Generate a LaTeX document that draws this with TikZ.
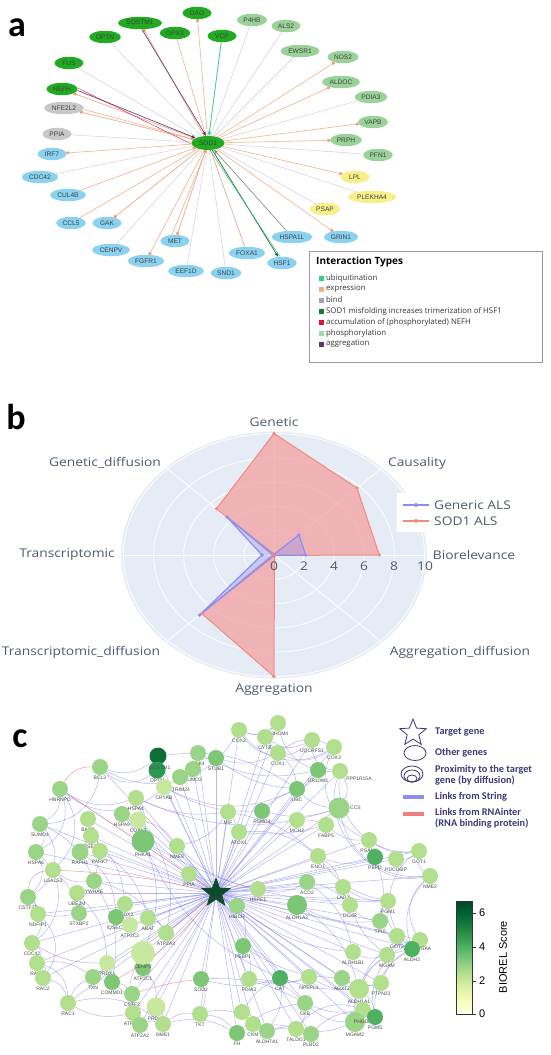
\documentclass[tikz,border=0pt]{standalone}
\usepackage{fontspec}
\usepackage{graphicx}
\setmainfont{Liberation Sans}
\newfontfamily\osans{Open Sans}
\newfontfamily\carl{Carlito}
\usetikzlibrary{shapes.geometric,arrows.meta}
\pgfdeclarelayer{back}
\pgfdeclarelayer{bg}
\pgfsetlayers{back,bg,main}
% panel a
\definecolor{ndg}{HTML}{22AA22}
\definecolor{nlg}{HTML}{9AD29A}
\definecolor{nbl}{HTML}{8AD2F0}
\definecolor{nye}{HTML}{F7F08A}
\definecolor{ngr}{HTML}{C8C8C8}
\definecolor{egr}{HTML}{D0CADE}
\definecolor{eor}{HTML}{F5AC82}
\definecolor{epu}{HTML}{5E3370}
\definecolor{eub}{HTML}{2BD47F}
\definecolor{edg}{HTML}{177A2E}
\definecolor{ecr}{HTML}{DC143C}
\definecolor{eph}{HTML}{A3D9A8}
\definecolor{ebd}{HTML}{A8A0B8}
% panel b
\definecolor{pbg}{HTML}{E5ECF6}
\definecolor{ptx}{HTML}{4C5B6E}
\definecolor{genl}{HTML}{8C8CF5}
\definecolor{sodl}{HTML}{F28A80}
\definecolor{sodf}{HTML}{F4A0A0}
% panel c
\definecolor{c1}{HTML}{C9E89F}
\definecolor{c2}{HTML}{B2DF8E}
\definecolor{c3}{HTML}{9AD486}
\definecolor{c4}{HTML}{7CC675}
\definecolor{c5}{HTML}{4FB062}
\definecolor{c6}{HTML}{2A9A52}
\definecolor{c7}{HTML}{0D6E36}
\definecolor{stg}{HTML}{0B4A2A}
\definecolor{sblue}{HTML}{7B7BF0}
\definecolor{rnared}{HTML}{F08080}
\definecolor{ctx}{HTML}{3B3B78}
\definecolor{yl0}{HTML}{FFFFE5}
\definecolor{yl1}{HTML}{F7FCB9}
\definecolor{yl2}{HTML}{D9F0A3}
\definecolor{yl3}{HTML}{ADDD8E}
\definecolor{yl4}{HTML}{78C679}
\definecolor{yl5}{HTML}{41AB5D}
\definecolor{yl6}{HTML}{238443}
\definecolor{yl7}{HTML}{006837}
\definecolor{yl8}{HTML}{004529}
\newcommand{\wx}[1]{\scalebox{1.15}[1]{#1}}
\begin{document}
\begin{tikzpicture}[x=1pt,y=-1pt,
 an/.style={ellipse, inner xsep=2pt, inner ysep=0.5pt, minimum height=12.5pt, minimum width=29pt, font=\fontsize{6.6}{7}\selectfont, text=black!75, fill=#1},
 eg/.style={draw=egr, line width=0.45pt},
 eo/.style={draw=eor, line width=0.55pt},
 eoa/.style={draw=eor, line width=0.55pt, -{Square[length=2.6pt,width=2.6pt,color=eor!90!red]}},
 epa/.style={draw=epu, line width=0.6pt, -{Triangle[length=4pt,width=3pt]}},
 lgt/.style={anchor=west, inner sep=0pt, font=\osans\fontsize{7.8}{9}\selectfont, text=black!80},
 lgs/.style={minimum size=5pt, inner sep=0pt, fill=#1},
 rlab/.style={font=\osans\fontsize{12}{14}\selectfont, text=ptx, inner sep=0pt},
 cn/.style={circle, inner sep=0pt, minimum size=16pt, fill=#1},
 cl/.style={font=\fontsize{5}{5.5}\selectfont, text=black!70, inner sep=0.3pt},
 sl/.style={draw=sblue, line width=0.5pt, opacity=0.55},
 rl/.style={draw=rnared, line width=0.5pt, opacity=0.75},
 clt/.style={anchor=west, inner sep=0pt, font=\carl\bfseries\fontsize{10.3}{11}\selectfont, text=ctx, align=left},
 plab/.style={inner sep=0pt, font=\carl\bfseries\fontsize{36}{36}\selectfont}
]
\begin{pgfonlayer}{back}
\fill[white] (0,0) rectangle (550,1055);
\end{pgfonlayer}
\useasboundingbox (0,0) rectangle (550,1055);

%================ PANEL A =================
\node[plab] (la) at (17,28) {a};
\node[an=ndg] (aDAO) at (197,13) {DAO};
\node[an=ndg] (aSQSTM1) at (140,23) {SQSTM1};
\node[an=ndg] (aOPTN) at (105,37) {OPTN};
\node[an=ndg] (aGPX3) at (175,33) {GPX3};
\node[an=ndg] (aVCP) at (222,36) {VCP};
\node[an=ndg] (aFUS) at (69,63) {FUS};
\node[an=ndg] (aNEFH) at (62,89) {NEFH};
\node[an=ndg, minimum width=33pt, minimum height=14pt] (aSOD1) at (208,143) {SOD1};
\node[an=nlg] (aP4HB) at (252,20) {P4HB};
\node[an=nlg] (aALS2) at (286,26) {ALS2};
\node[an=nlg] (aEWSR1) at (300,51) {EWSR1};
\node[an=nlg] (aNOS2) at (343,57) {NOS2};
\node[an=nlg] (aALDOC) at (341,82) {ALDOC};
\node[an=nlg] (aPDIA3) at (371,97) {PDIA3};
\node[an=nlg] (aVAPB) at (373,122) {VAPB};
\node[an=nlg] (aPRPH) at (346,140) {PRPH};
\node[an=nlg] (aPFN1) at (378,155) {PFN1};
\node[an=nye] (aLPL) at (355,177) {LPL};
\node[an=nye] (aPLEKHA4) at (372,197) {PLEKHA4};
\node[an=nye] (aPSAP) at (325,209) {PSAP};
\node[an=ngr] (aNFE2L2) at (64,108) {NFE2L2};
\node[an=ngr] (aPPIA) at (57,134) {PPIA};
\node[an=nbl] (aIRF7) at (52,154) {IRF7};
\node[an=nbl] (aCDC42) at (40,177) {CDC42};
\node[an=nbl] (aCUL4B) at (68,195) {CUL4B};
\node[an=nbl] (aCCL5) at (71,223) {CCL5};
\node[an=nbl] (aGAK) at (107,223) {GAK};
\node[an=nbl] (aCENPV) at (111,250) {CENPV};
\node[an=nbl] (aFGFR1) at (146,261) {FGFR1};
\node[an=nbl] (aMET) at (175,241) {MET};
\node[an=nbl] (aEEF1D) at (186,271) {EEF1D};
\node[an=nbl] (aSND1) at (226,273) {SND1};
\node[an=nbl] (aFOXA1) at (247,253) {FOXA1};
\node[an=nbl] (aHSF1) at (282,263) {HSF1};
\node[an=nbl] (aHSPA1L) at (292,237) {HSPA1L};
\node[an=nbl] (aGRIN1) at (341,237) {GRIN1};

\begin{pgfonlayer}{bg}
\foreach \n in {aOPTN,aFUS,aPPIA,aCDC42,aCENPV,aEEF1D,aSND1,aPSAP,aPLEKHA4,aPFN1,aPDIA3,aEWSR1,aALS2,aP4HB,aVCP,aNEFH,aSQSTM1,aGAK,aMET,aFOXA1,aNFE2L2}
  \draw[eg] (aSOD1) -- (\n);
\foreach \n in {aDAO,aSQSTM1,aNEFH,aNFE2L2,aIRF7,aGAK,aFGFR1,aMET,aGRIN1,aLPL,aPRPH,aVAPB,aALDOC,aNOS2}
  \draw[eoa] (aSOD1) -- (\n);
\foreach \n in {aGPX3,aCCL5,aFOXA1}
  \draw[eo] (aSOD1) -- (\n);
\draw[eoa] ([yshift=-1.5pt]aNFE2L2.east) -- (aSOD1);
\draw[eoa] (aCUL4B) -- (aSOD1);
\draw[eoa] ([xshift=-3pt]aMET.north) -- ([xshift=-2pt]aSOD1.south);
\draw[epa] ([xshift=2pt]aSQSTM1.south) -- ([xshift=-2pt]aSOD1.north);
\draw[epa] ([yshift=-1.5pt]aNEFH.east) -- (aSOD1);
\draw[draw=ecr, line width=0.4pt] ([yshift=1pt]aNEFH.east) -- ([yshift=-1pt]aSOD1.west);
\draw[epa, draw=ebd!80!black] (aHSPA1L) -- (aSOD1);
\draw[draw=eub, line width=0.7pt, -{Triangle[length=4pt,width=3pt]}] (aVCP) -- (aSOD1);
\draw[draw=edg, line width=0.7pt, -{Triangle[length=4pt,width=3pt]}] (aSOD1) -- (aHSF1);
\draw[draw=eub!70!edg, line width=0.4pt] ([xshift=2pt]aSOD1.south) -- ([xshift=-2pt]aHSF1.north);
\end{pgfonlayer}

% legend a
\node[draw=black!40, line width=0.8pt, minimum width=233pt, minimum height=111pt, anchor=north west, inner sep=0pt] (alegend) at (309,251) {};
\node[anchor=west, inner sep=0pt, font=\osans\bfseries\fontsize{10}{12}\selectfont] (altitle) at (316,262) {Interaction Types};
\node[lgs=eub] (ls1) at (321.5,278) {}; \node[lgt] (lt1) at (326,278) {ubiquitination};
\node[lgs=eor] (ls2) at (321.5,289) {}; \node[lgt] (lt2) at (326,289) {expression};
\node[lgs=ebd] (ls3) at (321.5,300) {}; \node[lgt] (lt3) at (326,300) {bind};
\node[lgs=edg] (ls4) at (321.5,311) {}; \node[lgt] (lt4) at (326,311) {SOD1 misfolding increases trimerization of HSF1};
\node[lgs=ecr] (ls5) at (321.5,322) {}; \node[lgt] (lt5) at (326,322) {accumulation of (phosphorylated) NEFH};
\node[lgs=eph] (ls6) at (321.5,333) {}; \node[lgt] (lt6) at (326,333) {phosphorylation};
\node[lgs=epu] (ls7) at (321.5,344) {}; \node[lgt] (lt7) at (326,344) {aggregation};

%================ PANEL B =================
\node[plab] (lb) at (16,417) {b};
\begin{scope}[shift={(274,555)}, x=15.05pt, y=12.15pt]
\fill[pbg] (0,0) ellipse [x radius=152.8pt, y radius=123.3pt];
\foreach \r in {2,4,6,8,10}
  \draw[white, line width=0.8pt] (0,0) ellipse [x radius=\r*15.05pt, y radius=\r*12.15pt];
\foreach \a in {0,45,...,315}
  \draw[white, line width=0.8pt] (0,0) -- (\a:10.15);
\filldraw[fill=sodf, fill opacity=0.75, draw=sodl, line width=1pt, line join=round]
  (0:7) -- (45:7.8) -- (90:10) -- (135:5.4) -- (180:0.1) -- (225:6.8) -- (270:10) -- (315:0.05) -- cycle;
\filldraw[fill=genl, fill opacity=0.35, draw=genl, line width=1.2pt, line join=round]
  (0:2.1) -- (45:2.35) -- (90:0.05) -- (135:4.4) -- (180:0.8) -- (225:7.0) -- (270:0.05) -- (315:0.05) -- cycle;
\foreach \a/\v in {0/2.1,45/2.35,90/0.05,135/4.4,180/0.8,225/7.0,270/0.05,315/0.05}
  \fill[genl] (\a:\v) circle[radius=1.8pt];
\foreach \a/\v in {0/7,45/7.8,90/10,135/5.4,180/0.1,225/6.8,270/10,315/0.05}
  \fill[sodl] (\a:\v) circle[radius=1.8pt];
\end{scope}
\node[rlab] (bt0) at (274,566) {\wx{0}};
\node[rlab] (bt2) at (304,566) {\wx{2}};
\node[rlab] (bt4) at (334,566) {\wx{4}};
\node[rlab] (bt6) at (364,566) {\wx{6}};
\node[rlab] (bt8) at (394,566) {\wx{8}};
\node[rlab] (bt10) at (425,566) {\wx{10}};
\node[rlab] (bgen) at (274,422) {\wx{Genetic}};
\node[rlab] (bcau) at (417,463) {\wx{Causality}};
\node[rlab] (bgd) at (105,463) {\wx{Genetic\_diffusion}};
\node[rlab] (btr) at (67,555) {\wx{Transcriptomic}};
\node[rlab] (bbio) at (474,555) {\wx{Biorelevance}};
\node[rlab] (btd) at (81,652) {\wx{Transcriptomic\_diffusion}};
\node[rlab] (bad) at (460,652) {\wx{Aggregation\_diffusion}};
\node[rlab] (bagg) at (274,690) {\wx{Aggregation}};
% legend b
\fill[white] (397,493) rectangle (518,532);
\draw[genl, line width=2pt] (403,505) -- (429,505);
\fill[genl] (416,505) circle[radius=2pt];
\draw[sodl, line width=2pt] (403,521) -- (429,521);
\fill[sodl] (416,521) circle[radius=2pt];
\node[rlab, anchor=west] (blg1) at (434,505) {\wx{Generic ALS}};
\node[rlab, anchor=west] (blg2) at (434,521) {\wx{SOD1 ALS}};

%================ PANEL C =================
\node[plab] (lc) at (20,739) {c};
\node[cn=c2, label={[cl]below:COX2}] (cox2) at (239,730) {};
\node[cn=c2, label={[cl]below:R3HCM4}] (r3h) at (278,723) {};
\node[cn=c2, label={[cl]below:CYTB}] (cytb) at (265,737) {};
\node[cn=c2, label={[cl]below:COX1}] (cox1) at (278,753) {};
\node[cn=c2, label={[cl]below:UQCRFS1}] (uqcr) at (312,740) {};
\node[cn=c2, label={[cl]below:COX3}] (cox3) at (334,747) {};
\node[cn=c4, label={[cl]below:OR10W1}] (or10) at (318,770) {};
\node[cn=c2, label={[cl]below right:PPP1R15A}] (ppp) at (340,771) {};
\node[cn=c7, minimum size=17pt] (sqstm) at (158,756) {};
\node[cn=c6, minimum size=17pt, label={[cl]below:OPTN}] (optn) at (157,770) {};
\node[cl] (sqstml) at (160,768) {SQSTM1};
\node[cn=c3, label={[cl]below:CDK4}] (cdk4) at (198,753) {};
\node[cn=c4, label={[cl]below:STUB1}] (stub1) at (216,758) {};
\node[cn=c3, label={[cl]below:SUMO2}] (sumo2) at (193,769) {};
\node[cn=c3] (trim) at (180,777) {};
\node[cl] (triml) at (181,790) {TRIM24};
\node[cn=c1, label={[cl]below:CRYAB}] (cryab) at (164,787) {};
\node[cn=c3, label={[cl]below:BCL2}] (bcl2) at (100,767) {};
\node[cn=c3, label={[cl]below:HNRNPD}] (hnrnpd) at (60,789) {};
\node[cn=c3, label={[cl]below:SUMO4}] (sumo4) at (40,824) {};
\node[cn=c2, label={[cl]below:HSPA4}] (hspa4) at (136,798) {};
\node[cn=c3, label={[cl]below:HSPA9}] (hspa9) at (122,814) {};
\node[cn=c1, minimum size=17pt, label={[cl]below:COX17}] (cox17) at (138,820) {};
\node[cn=c4, minimum size=23pt, label={[cl]below:PHKA1}] (phka1) at (143,841) {};
\node[cn=c2, label={[cl]below:NME8}] (nme8) at (177,846) {};
\node[cn=c2, label={[cl]below:BAG3}] (bag3) at (88,819) {};
\node[cn=c2, label={[cl]below:APSE1IP}] (apse) at (91,836) {};
\node[cn=c3, minimum size=17pt, label={[cl]below:RAPH1}] (raph1) at (80,852) {};
\node[cn=c2, label={[cl]below:PARK7}] (park7) at (100,851) {};
\node[cn=c3, label={[cl]below:HSPA6}] (hspa6) at (36,852) {};
\node[cn=c2, label={[cl]below:LGALS3}] (lgals3) at (53,870) {};
\node[cn=c3, label={[cl]below:YWHAE}] (ywhae) at (94,881) {};
\node[cn=c2, label={[cl]below:UBE2M}] (ube2m) at (77,893) {};
\node[cn=c3, label={[cl]below:CSTF2T}] (cstf2t) at (28,897) {};
\node[cn=c2, label={[cl]below:NDFIP1}] (ndfip1) at (38,914) {};
\node[cn=c3, label={[cl]below:STXBP2}] (stxbp2) at (79,913) {};
\node[cn=c2, label={[cl]below:PRDX2}] (prdx2) at (125,904) {};
\node[cn=c4, label={[cl]below:IQSEC1}] (iqsec) at (116,917) {};
\node[cn=c1, label={[cl]below:ATP2C2}] (atp2c2) at (130,925) {};
\node[cn=c2, label={[cl]below:ABAT}] (abat) at (148,918) {};
\node[cn=c2, label={[cl]below:ATP2A3}] (atp2a3) at (166,933) {};
\node[cn=c2, label={[cl]below:CDC42}] (cdc42) at (32,943) {};
\node[cn=c2, label={[cl]below:RAC3}] (rac3) at (37,963) {};
\node[cn=c2, label={[cl]below:RAC2}] (rac2) at (43,978) {};
\node[cn=c4, label={[cl]below:ATP2C1}] (atp2c1) at (143,968) {};
\node[cn=c1, minimum size=24pt, label={[cl, label distance=-0.5pt]below:CENPV}] (cenpv) at (143,953) {};
\node[cn=c1, label={[cl]below:PRDX1}] (prdx1) at (107,963) {};
\node[cn=c3, label={[cl]below:TXN}] (txn) at (93,977) {};
\node[cn=c4, label={[cl]below:COMMD1}] (commd1) at (112,982) {};
\node[cn=c3, label={[cl]below:CSTF2}] (cstf2) at (132,994) {};
\node[cn=c2, label={[cl]below:RAC1}] (rac1) at (68,1003) {};
\node[cn=c1, minimum size=19pt, label={[cl]below:PRDX6}] (prdx6) at (156,1007) {};
\node[cn=c2, label={[cl]below:ATP2A1}] (atp2a1) at (133,1013) {};
\node[cn=c3, label={[cl]below:ATP2A2}] (atp2a2) at (140,1025) {};
\node[cn=c2, label={[cl]below:NME1}] (nme1) at (163,1024) {};
\node[cn=c2, label={[cl]below:PPIA}] (ppia) at (189,874) {};
\node[cn=c2, label={[cl]below:HSPE1}] (hspe1) at (258,889) {};
\node[cn=c3, label={[cl]below:HIBCH}] (hibch) at (237,906) {};
\node[cn=c4, label={[cl]below:PEBP1}] (pebp1) at (243,946) {};
\node[cn=c4, label={[cl]below:SOD2}] (sod2) at (201,979) {};
\node[cn=c2, label={[cl]below:PDIA3}] (pdia3) at (249,979) {};
\node[cn=c2, label={[cl]below:TKT}] (tkt) at (200,1014) {};
\node[cn=c2] (si) at (242,1012) {};
\node[cn=c2, label={[cl]below:CKM}] (ckm) at (253,1024) {};
\node[cn=c4, label={[cl]below:FH}] (fh) at (237,1033) {};
\node[cn=c3, label={[cl]below:ALDH7A1}] (aldh7) at (267,1031) {};
\node[cn=c2, label={[cl]below:MIF}] (mif) at (228,812) {};
\node[cn=c4, label={[cl]below:PSMD4}] (psmd4) at (262,811) {};
\node[cn=c2, label={[cl]below:ATOX1}] (atox1) at (239,832) {};
\node[cn=c4, label={[cl]below:UBC}] (ubc) at (297,789) {};
\node[cn=c2, label={[cl]below:MCH2}] (nch2) at (297,820) {};
\node[cn=c3, minimum size=21pt, label={[cl]right:CCS}] (ccs) at (339,808) {};
\node[cn=c2, label={[cl]below:FABP5}] (fabp) at (326,825) {};
\node[cn=c2, label={[cl]below:ENO1}] (eno1) at (318,856) {};
\node[cn=c3, label={[cl]below:ACO2}] (aco2) at (307,882) {};
\node[cn=c2, label={[cl]below:LAP3}] (lap3) at (343,887) {};
\node[cn=c4, minimum size=20pt, label={[cl]below:ALDH1A2}] (aldh1a2) at (297,905) {};
\node[cn=c2, label={[cl]below:DCXR}] (dcxr) at (350,905) {};
\node[cn=c2, label={[cl]below:PGAM1}] (pgam1) at (369,840) {};
\node[cn=c5, label={[cl]below:PEPD}] (pepd) at (375,857) {};
\node[cn=c2, label={[cl]below:PDCD6IP}] (pdcd) at (396,859) {};
\node[cn=c2, label={[cl]below:GOT1}] (got1) at (419,851) {};
\node[cn=c2, label={[cl]below:NME2}] (nme2) at (430,876) {};
\node[cn=c2, label={[cl]below:PGM1}] (pgm1) at (388,901) {};
\node[cn=c3, label={[cl]below:TPI1}] (tpi1) at (380,921) {};
\node[cn=c2, label={[cl]below:GOT2}] (got2) at (397,936) {};
\node[cn=c2] (aldh2) at (420,940) {};
\node[cn=c5, label={[cl]right:GAA}, label={[cl]below:ALDH2}] (gaa) at (412,949) {};
\node[cn=c2, label={[cl]below:MGAM}] (mgam) at (387,955) {};
\node[cn=c2, label={[cl]below:ALDH1B1}] (aldh1b1) at (353,952) {};
\node[cn=c5, label={[cl]below:CAT}] (cat) at (280,978) {};
\node[cn=c2, label={[cl]below:NPEPL1}] (npepl1) at (309,977) {};
\node[cn=c3, label={[cl]below:AGXT2}] (agxt2) at (342,978) {};
\node[cn=c2, minimum size=20pt, label={[cl]below:ALDH1A1}] (aldh1a1) at (359,989) {};
\node[cn=c2, label={[cl]below:PTPN23}] (ptpn) at (381,983) {};
\node[cn=c3, label={[cl]below:CKB}] (ckb) at (305,1003) {};
\node[cn=c2] (phgdh) at (363,1010) {};
\node[cn=c3, minimum size=20pt, label={[cl]below:MGAM2}] (mgam2) at (355,1022) {};
\node[cl] (phgdhl) at (363,1022) {PHGDH};
\node[cn=c5, label={[cl]below:PGM5}] (pgm5) at (375,1017) {};
\node[cn=c2, label={[cl]below:TALDO1}] (taldo1) at (296,1029) {};
\node[cn=c3, label={[cl]below:PLBD2}] (plbd2) at (311,1034) {};
\node[star, star points=5, star point ratio=2.4, fill=stg, minimum size=32pt, inner sep=0pt, label={[cl, label distance=-3pt]below:SOD1}] (sod1) at (216,893) {};

\begin{pgfonlayer}{bg}
\foreach \n in {cox2,r3h,cytb,cox1,uqcr,cox3,or10,ppp,sqstm,optn,cdk4,stub1,sumo2,trim,cryab,bcl2,hnrnpd,sumo4,hspa4,hspa9,cox17,phka1,nme8,bag3,apse,raph1,park7,hspa6,ywhae,ube2m,ndfip1,stxbp2,prdx2,iqsec,atp2c2,abat,atp2a3,cdc42,rac3,rac2,cenpv,atp2c1,prdx1,txn,cstf2,rac1,prdx6,atp2a1,atp2a2,nme1,ppia,hspe1,hibch,pebp1,sod2,pdia3,tkt,si,ckm,fh,aldh7,mif,psmd4,atox1,ubc,nch2,ccs,fabp,eno1,aco2,lap3,aldh1a2,dcxr,pgam1,pepd,pdcd,got1,nme2,pgm1,tpi1,got2,gaa,aldh2,mgam,aldh1b1,cat,npepl1,agxt2,aldh1a1,ptpn,ckb,phgdh,mgam2,pgm5,taldo1,plbd2}
  \draw[sl] (sod1) -- (\n);
\foreach \p/\q/\b in {hnrnpd/sumo4/30,sumo4/hspa6/30,hspa6/cstf2t/35,cstf2t/cdc42/40,cdc42/rac3/40,rac3/rac2/40,rac2/rac1/30,rac1/txn/20,bcl2/optn/-40,bcl2/cox2/-45,hnrnpd/cryab/-40,cox2/cox3/-40,r3h/ppp/-40,cytb/uqcr/-30,cox1/cox3/30,ppp/got1/-50,ccs/nme2/-40,got1/nme2/-30,nme2/gaa/-30,gaa/pgm5/-30,aldh2/aldh1a1/-30,pgm5/plbd2/-30,plbd2/fh/-20,fh/nme1/-20,nme1/atp2a2/-20,tkt/fh/20,atp2a1/rac1/20,phka1/pgm1/-15,hspa4/ccs/-20,cryab/ubc/-25,stub1/cox1/-20,sqstm/ubc/20,ywhae/atp2a3/20,lgals3/ywhae/-20,ube2m/stxbp2/20,eno1/pgm1/-20,aco2/aldh1b1/20,tpi1/pgm1/20,got2/mgam/20,aldh1a2/aldh1a1/20,cat/npepl1/-20,agxt2/ptpn/-20,ckb/taldo1/20,taldo1/plbd2/20,phgdh/pgm5/-20,pepd/pgam1/20,pdcd/got1/-20,psmd4/ubc/10,mif/atox1/10,nch2/fabp/10,hspa9/cox17/20,bag3/raph1/20,park7/apse/-20,ndfip1/stxbp2/-10,prdx1/txn/20,commd1/cstf2/20,atp2c1/prdx6/20,sod2/tkt/20,pebp1/pdia3/20,cdk4/stub1/-20,sumo2/trim/20,optn/cryab/20,hspa4/phka1/20,cox17/nme8/20,abat/atp2a3/20,cenpv/atp2a1/-20,prdx6/nme1/20,cat/aldh7/20,ckm/aldh7/20,mgam2/ckb/20,lap3/dcxr/20,dcxr/tpi1/-20,aldh1b1/mgam/-20,got2/gaa/20,ubc/ccs/-20,or10/ubc/20,ppp/ccs/30,r3h/cox2/30,hnrnpd/lgals3/40,sumo4/ywhae/20,cstf2t/ndfip1/20,rac3/txn/20,cdc42/prdx1/-15,nme8/mif/-20,atox1/eno1/20,hibch/pebp1/20,hspe1/aco2/-20,pebp1/cat/20,sod2/cat/-15,pdia3/ckb/20,aldh1a1/pgm5/20,ptpn/gaa/20,eno1/pepd/-20,fabp/pgam1/-20,bcl2/sqstm/-30,hnrnpd/hspa4/-25,cox2/r3h/-30,cox2/uqcr/-50,cytb/cox3/-45,uqcr/ppp/-40,cox3/pgam1/-45,ppp/nme2/-60,got1/gaa/-50,nme2/aldh2/-40,aldh2/pgm5/-40,gaa/mgam2/-40,mgam/phgdh/-30,pgm5/taldo1/-40,plbd2/aldh7/-20,ckm/tkt/-25,tkt/nme1/-20,nme1/rac1/-25,atp2a2/txn/-30,rac1/rac3/-35,rac2/ndfip1/-40,cdc42/hspa6/-50,cstf2t/sumo4/-50,hspa6/hnrnpd/-40,sumo4/bcl2/-40,phka1/cat/-20,cox17/atp2a3/25,hspa9/cenpv/30,bag3/ywhae/20,raph1/iqsec/25,apse/prdx2/20,lgals3/stxbp2/15,ube2m/prdx1/20,park7/abat/20,ywhae/commd1/20,hspa4/mif/-15,cryab/psmd4/-15,stub1/ubc/-15,cdk4/or10/-20,cox1/ubc/20,psmd4/ccs/-15,atox1/fabp/-10,mif/eno1/15,ppia/aco2/-15,nme8/hspe1/-15,eno1/lap3/15,aco2/dcxr/15,aldh1a2/tpi1/-15,hibch/aldh1b1/-15,pebp1/agxt2/-15,pdia3/npepl1/-15,sod2/ckb/15,cat/ptpn/-15,npepl1/aldh1a1/-15,ckb/phgdh/-15,taldo1/mgam2/-15,fh/ckb/15,si/cat/15,aldh7/plbd2/15,pgm1/got2/-20,tpi1/gaa/-20,dcxr/mgam/-15,pgam1/got1/-20,pepd/tpi1/15,lap3/pgm1/-15}
  \draw[sl] (\p) to[bend left=\b] (\q);
\draw[rl] (bcl2) to[bend right=30] (hnrnpd);
\draw[rl] (hnrnpd) -- (sod1);
\draw[rl] (cstf2t) to[bend left=40] (lgals3);
\draw[rl] (lgals3) to[bend left=5] (sod1);
\draw[rl] (sod1) to[bend left=10] (commd1);
\draw[rl] (sod1) -- (atp2a3);
\draw[rl] (sod2) to[bend right=5] (cstf2);
\end{pgfonlayer}

% legend c
\node[star, star points=5, star point ratio=2.3, draw=ctx, line width=0.8pt, minimum size=28pt, inner sep=0pt] (lgstar) at (413,733) {};
\node[clt] (lgt1) at (435,732) {Target gene};
\node[ellipse, draw=ctx, line width=0.8pt, minimum width=22pt, minimum height=15pt, inner sep=0pt] (lgell) at (415,753) {};
\node[clt] (lgt2) at (435,753) {Other genes};
\node[ellipse, draw=ctx, line width=0.8pt, minimum width=22pt, minimum height=16pt, inner sep=0pt] (lgc1) at (412,774) {};
\node[ellipse, draw=ctx, line width=0.8pt, minimum width=16pt, minimum height=12pt, inner sep=0pt] (lgc2) at (412,776) {};
\node[ellipse, draw=ctx, line width=0.8pt, minimum width=10pt, minimum height=7pt, inner sep=0pt] (lgc3) at (412,778.5) {};
\node[clt] (lgt3) at (435,775) {Proximity to the target\\gene (by diffusion)};
\draw[sblue!85, line width=4pt] (403,797) -- (424,797);
\node[clt] (lgt4) at (435,797) {Links from String};
\draw[rnared, line width=4pt] (403,814) -- (424,814);
\node[clt] (lgt5) at (435,818) {Links from RNAinter\\(RNA binding protein)};

% colorbar
\shade[bottom color=yl0, top color=yl1] (456,1014) rectangle (472,999.875);
\shade[bottom color=yl1, top color=yl2] (456,1000.375) rectangle (472,985.75);
\shade[bottom color=yl2, top color=yl3] (456,986.25) rectangle (472,971.625);
\shade[bottom color=yl3, top color=yl4] (456,972.125) rectangle (472,957.5);
\shade[bottom color=yl4, top color=yl5] (456,958) rectangle (472,943.375);
\shade[bottom color=yl5, top color=yl6] (456,943.875) rectangle (472,929.25);
\shade[bottom color=yl6, top color=yl7] (456,929.75) rectangle (472,915.125);
\shade[bottom color=yl7, top color=yl8] (456,915.625) rectangle (472,901);
\draw[black!80, line width=0.6pt] (456,901) rectangle (472,1014);
\foreach \v/\yy in {0/1014,2/981,4/947,6/913} {
  \draw[black!80, line width=0.6pt] (472,\yy) -- (476,\yy);
  \node[anchor=west, inner sep=0pt, font=\fontsize{11}{12}\selectfont] at (479,\yy) {\v};
}
\node[rotate=90, inner sep=0pt, font=\fontsize{11}{12}\selectfont] (cbt) at (503,957) {BIOREL Score};
\end{tikzpicture}
\end{document}
